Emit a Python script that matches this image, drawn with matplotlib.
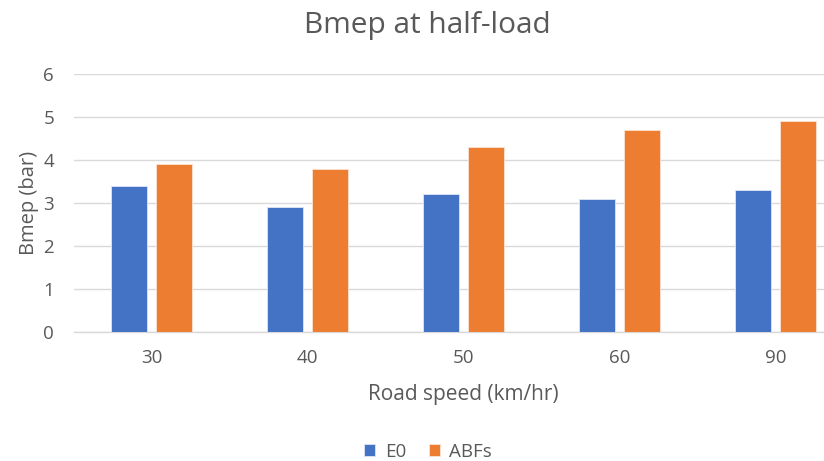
import numpy as np
import matplotlib.pyplot as plt

# Bmep at half-load, E0 vs ABFs blend
speeds = ['30', '40', '50', '60', '90']
bmep_e0 = [3.4, 2.9, 3.2, 3.1, 3.3]
bmep_abfs = [3.9, 3.8, 4.3, 4.7, 4.9]

plt.rcParams['font.family'] = ['Open Sans', 'DejaVu Sans']
txt = '#595959'

fig = plt.figure(figsize=(8.24, 4.61), dpi=100)
# plot area runs a little past the right edge of the figure
ax = fig.add_axes([0.0892, 0.279, 0.9466, 0.561])

x = np.arange(len(speeds))
w = 0.23
ax.bar(x - 0.147, bmep_e0, w, color='#4472C4', edgecolor='#dfe6f5', linewidth=0.6, label='E0', zorder=3)
ax.bar(x + 0.147, bmep_abfs, w, color='#ED7D31', edgecolor='#fbe2d2', linewidth=0.6, label='ABFs', zorder=3)

ax.set_xlim(-0.5, len(speeds) - 0.5)
ax.set_ylim(0, 6)
ax.set_yticks(range(0, 7))
ax.set_xticks(x)
ax.set_xticklabels(speeds)
ax.grid(axis='y', color='#d9d9d9', linewidth=1, zorder=0)
for s in ['top', 'right', 'left']:
    ax.spines[s].set_visible(False)
ax.spines['bottom'].set_color('#d9d9d9')
ax.spines['bottom'].set_linewidth(1)
ax.tick_params(length=0, labelsize=13.5, colors=txt)
ax.tick_params(axis='x', pad=12)
ax.tick_params(axis='y', pad=14)

ax.set_ylabel('Bmep (bar)', fontsize=14.5, color=txt, labelpad=3)
ax.set_xlabel('Road speed (km/hr)', fontsize=15, color=txt, labelpad=12)

fig.text(427 / 824, 1 - 26 / 461, 'Bmep at half-load', ha='center', va='center',
         fontsize=21.5, color=txt)

fig.legend(loc='center', bbox_to_anchor=(428 / 824, 1 - 452 / 461), ncol=2,
           frameon=False, handlelength=0.6, handleheight=0.6, handletextpad=0.5,
           columnspacing=1.2, fontsize=13.5, labelcolor=txt)

fig.savefig('out.png', dpi=100)
